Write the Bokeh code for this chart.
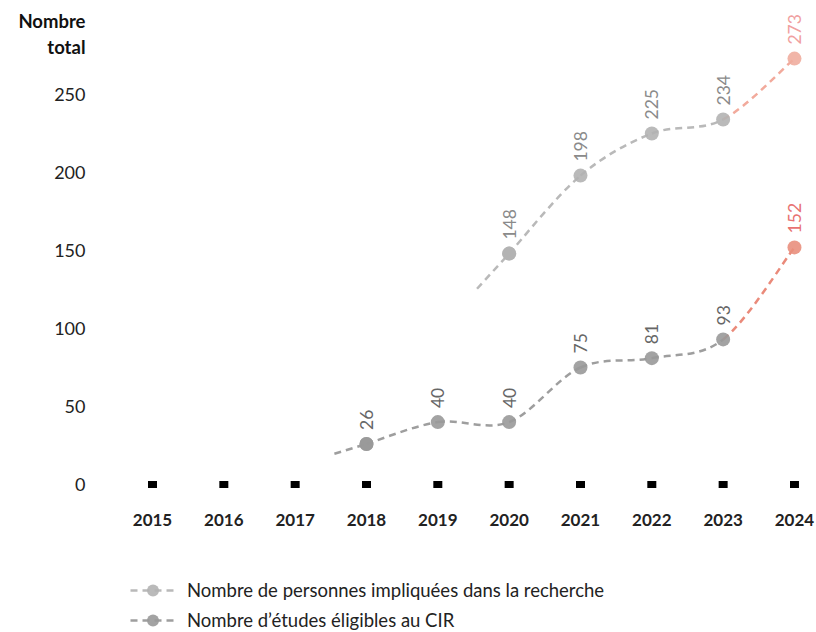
import math
from bokeh.plotting import figure
from bokeh.models import Range1d, Label, Legend, LegendItem, FixedTicker, ColumnDataSource
from bokeh.core.properties import value
from bokeh.embed import file_html
from bokeh.resources import INLINE

# ---- data ----
years = [2015, 2016, 2017, 2018, 2019, 2020, 2021, 2022, 2023, 2024]
etudes_years = [2018, 2019, 2020, 2021, 2022, 2023, 2024]
etudes = [26, 40, 40, 75, 81, 93, 152]
pers_years = [2020, 2021, 2022, 2023, 2024]
personnes = [148, 198, 225, 234, 273]
y_ticks = [0, 50, 100, 150, 200, 250]
y_title = "Nombre\ntotal"
label_pers = "Nombre de personnes impliquées dans la recherche"
label_etudes = "Nombre d\u2019études éligibles au CIR"

FONT = "Lato"
W, H = 816, 632
PX_YEAR = 71.33
PX_UNIT = 1.56
X0 = 2015 - 152 / PX_YEAR
X1 = X0 + W / PX_YEAR
Y1 = 484 / PX_UNIT
Y0 = Y1 - H / PX_UNIT
YAXIS_X = X0 + 100 / PX_YEAR
XAXIS_Y = Y1 - 500 / PX_UNIT

p = figure(width=W, height=H, output_backend="svg", toolbar_location=None,
           x_range=Range1d(X0, X1), y_range=Range1d(Y0, Y1),
           min_border_left=0, min_border_right=0, min_border_top=0, min_border_bottom=0)
p.grid.visible = False
p.outline_line_color = None

for ax in (p.xaxis, p.yaxis):
    ax.axis_line_color = None
    ax.major_tick_line_color = None
    ax.minor_tick_line_color = None
    ax.major_tick_in = 0
    ax.major_tick_out = 0
    ax.major_label_text_font = FONT
    ax.major_label_text_color = "#222222"

p.yaxis.ticker = FixedTicker(ticks=y_ticks)
p.yaxis.major_label_text_font_size = "18px"
p.yaxis.major_label_standoff = 15
p.yaxis.fixed_location = YAXIS_X
p.xaxis.ticker = FixedTicker(ticks=years)
p.xaxis.major_label_text_font_size = "17px"
p.xaxis.major_label_text_font_style = "bold"
p.xaxis.major_label_standoff = 13
p.xaxis.fixed_location = XAXIS_Y


def bezier_parts(xs, ys):
    n = len(xs)
    out = dict(x0=[], y0=[], x1=[], y1=[], cx0=[], cy0=[], cx1=[], cy1=[])
    for i in range(n - 1):
        im = max(i - 1, 0)
        ip = min(i + 2, n - 1)
        out["x0"].append(xs[i]); out["y0"].append(ys[i])
        out["x1"].append(xs[i + 1]); out["y1"].append(ys[i + 1])
        out["cx0"].append(xs[i] + (xs[i + 1] - xs[im]) / 6)
        out["cy0"].append(ys[i] + (ys[i + 1] - ys[im]) / 6)
        out["cx1"].append(xs[i + 1] - (xs[ip] - xs[i]) / 6)
        out["cy1"].append(ys[i + 1] - (ys[ip] - ys[i]) / 6)
    return out


def draw_series(xs, ys, grey_line, grey_pt, coral_line, coral_pt, grey_txt, coral_txt):
    parts = bezier_parts(xs, ys)
    n = len(parts["x0"])
    grey = {k: v[: n - 1] for k, v in parts.items()}
    coral = {k: v[n - 1:] for k, v in parts.items()}
    p.bezier(source=ColumnDataSource(grey), line_color=grey_line, line_width=2.5, line_dash="7 5")
    p.bezier(source=ColumnDataSource(coral), line_color=coral_line, line_width=2.5, line_dash="7 5")
    lead = 0.45
    lx = [xs[0] - lead, xs[0]]
    ly = [ys[0] - lead * (ys[1] - ys[0]), ys[0]]
    lead_r = p.line(lx, ly, line_color=grey_line, line_width=2.5, line_dash="7 5")
    cols = [grey_pt] * (len(xs) - 1) + [coral_pt]
    tcols = [grey_txt] * (len(xs) - 1) + [coral_txt]
    src = ColumnDataSource(dict(x=xs, y=ys, c=cols, tc=tcols, t=[str(v) for v in ys]))
    p.scatter("x", "y", source=src, size=14, fill_color="c", line_color=None, fill_alpha=0.9)
    p.text("x", "y", text="t", source=src, angle=math.pi / 2, text_align="left",
           text_baseline="middle", y_offset=-14, text_color="tc",
           text_font=value(FONT), text_font_size="17.5px")
    leg_pt = p.scatter(xs[:1], ys[:1], size=14, fill_color=grey_pt, line_color=None, fill_alpha=0.9)
    return lead_r, leg_pt


pl, pp = draw_series(pers_years, personnes, "#b9b9b9", "#b3b3b3", "#f2aa9c", "#f0ad9e", "#8a8a8a", "#f0a0a0")
el, ep = draw_series(etudes_years, etudes, "#9e9e9e", "#999999", "#ea8a7a", "#e98f7d", "#666666", "#e87272")

baseline = [0] * len(years)
p.rect(years, baseline, width=9, height=7, width_units="screen", height_units="screen",
       fill_color="black", line_color=None)

p.add_layout(Label(x=YAXIS_X, y=Y1, x_offset=-15, y_offset=-9, text=y_title,
                   text_align="right", text_baseline="top", text_font=FONT,
                   text_font_size="18.5px", text_font_style="bold", text_color="#111111",
                   text_line_height=1.19))

legend = Legend(items=[LegendItem(label=label_pers, renderers=[pl, pp]),
                       LegendItem(label=label_etudes, renderers=[el, ep])],
                location=(130, -3), orientation="vertical", glyph_width=45, glyph_height=30,
                label_text_font=FONT, label_text_font_size="18.5px", label_text_color="#222222",
                spacing=0, border_line_color=None, background_fill_alpha=0, padding=0,
                margin=0, label_standoff=12)
p.add_layout(legend, "center")

open("out.html", "w").write(file_html(p, INLINE))
